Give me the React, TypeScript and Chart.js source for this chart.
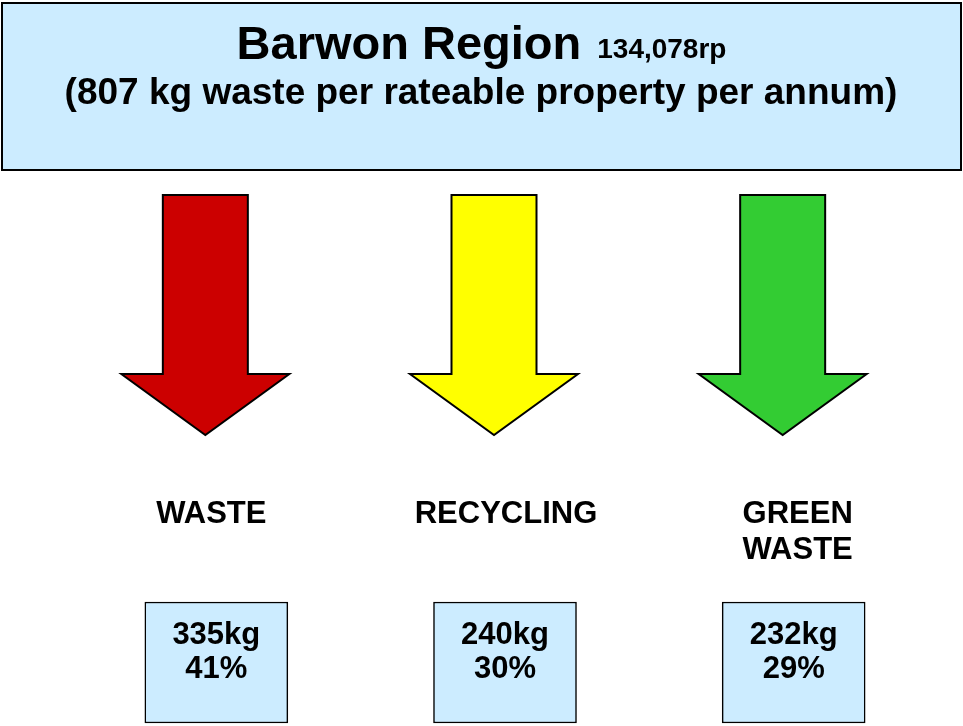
import React, { useEffect, useRef } from "react";
import { Chart, registerables } from "chart.js";

Chart.register(...registerables);

// ---- data ----
const CATEGORIES = ["WASTE", "RECYCLING", "GREEN WASTE"];
const LABEL_LINES = [["WASTE"], ["RECYCLING"], ["GREEN", "WASTE"]];
const KG = [335, 240, 232];
const PCT = [41, 30, 29];
const REGION = "Barwon Region";
const RATEABLE_PROPERTIES = "134,078rp";
const TOTAL_KG = 807;
const SUBTITLE = `(${TOTAL_KG} kg waste per rateable property per annum)`;

// ---- styles / layout ----
const ARROW_COLORS = ["#CC0000", "#FFFF00", "#33CC33"];
const BOX_FILL = "#CCECFF";
const FONT = '"Liberation Sans", Arial, Helvetica, sans-serif';
const W = 963;
const H = 726;
const BOX_TOP = 602;
const BOX_BOTTOM = 723;
const ARROW_SHIFT = -11;
const LABEL_NUDGE = [-5, 1, 4];

const drawPlugin = {
  id: "infographic",
  beforeDatasetsDraw(chart: any) {
    const ctx: CanvasRenderingContext2D = chart.ctx;
    const xs = chart.scales.x;
    const ys = chart.scales.y;
    const py = (v: number) => ys.getPixelForValue(v);
    ctx.save();

    // title box
    ctx.fillStyle = BOX_FILL;
    ctx.fillRect(2, py(3), 959, py(170) - py(3));
    ctx.strokeStyle = "#000";
    ctx.lineWidth = 2;
    ctx.strokeRect(2, py(3), 959, py(170) - py(3));

    // title text
    ctx.fillStyle = "#000";
    ctx.textBaseline = "alphabetic";
    ctx.textAlign = "left";
    ctx.font = `bold 47px ${FONT}`;
    const w1 = ctx.measureText(REGION).width;
    ctx.font = `bold 28px ${FONT}`;
    const w2 = ctx.measureText(RATEABLE_PROPERTIES).width;
    const gap = 16;
    const start = 481.5 - (w1 + gap + w2) / 2;
    ctx.font = `bold 47px ${FONT}`;
    ctx.fillText(REGION, start, py(59));
    ctx.font = `bold 28px ${FONT}`;
    ctx.fillText(RATEABLE_PROPERTIES, start + w1 + gap, py(58));
    ctx.textAlign = "center";
    ctx.font = `bold 37px ${FONT}`;
    ctx.fillText(SUBTITLE, 481, py(104));

    // arrows
    CATEGORIES.forEach((_, i) => {
      const cx = xs.getPixelForValue(i) + ARROW_SHIFT;
      ctx.beginPath();
      ctx.moveTo(cx - 42.5, py(195));
      ctx.lineTo(cx + 42.5, py(195));
      ctx.lineTo(cx + 42.5, py(374));
      ctx.lineTo(cx + 84, py(374));
      ctx.lineTo(cx, py(435));
      ctx.lineTo(cx - 84, py(374));
      ctx.lineTo(cx - 42.5, py(374));
      ctx.closePath();
      ctx.fillStyle = ARROW_COLORS[i];
      ctx.fill();
      ctx.lineWidth = 2;
      ctx.lineJoin = "miter";
      ctx.strokeStyle = "#000";
      ctx.stroke();
    });

    // category labels
    ctx.fillStyle = "#000";
    ctx.textAlign = "center";
    ctx.font = `bold 31px ${FONT}`;
    LABEL_LINES.forEach((lines, i) => {
      const cx = xs.getPixelForValue(i) + LABEL_NUDGE[i];
      lines.forEach((line, k) => {
        ctx.fillText(line, cx, py(523 + 36 * k));
      });
    });
    ctx.restore();
  },
  afterDatasetsDraw(chart: any) {
    const ctx: CanvasRenderingContext2D = chart.ctx;
    const ys = chart.scales.y;
    const meta = chart.getDatasetMeta(0);
    ctx.save();
    ctx.fillStyle = "#000";
    ctx.textAlign = "center";
    ctx.textBaseline = "alphabetic";
    ctx.font = `bold 31px ${FONT}`;
    meta.data.forEach((bar: any, i: number) => {
      ctx.fillText(`${KG[i]}kg`, bar.x, ys.getPixelForValue(644));
      ctx.fillText(`${PCT[i]}%`, bar.x, ys.getPixelForValue(678));
    });
    ctx.restore();
  },
};

export default function App() {
  const ref = useRef<HTMLCanvasElement | null>(null);
  useEffect(() => {
    if (!ref.current) return;
    const chart = new Chart(ref.current, {
      type: "bar",
      data: {
        labels: CATEGORIES,
        datasets: [
          {
            label: "kg per rateable property",
            data: CATEGORIES.map(() => [BOX_TOP, BOX_BOTTOM]) as any,
            backgroundColor: BOX_FILL,
            borderColor: "#000",
            borderWidth: 1.5,
            borderSkipped: false,
            barThickness: 143,
          },
        ],
      },
      options: {
        responsive: false,
        animation: false,
        events: [],
        layout: { padding: { left: 72, right: 25, top: 0, bottom: 0 } },
        plugins: {
          legend: { display: false },
          tooltip: { enabled: false },
          title: { display: false },
        },
        scales: {
          x: { type: "category", display: false, offset: true },
          y: { type: "linear", display: false, min: 0, max: H, reverse: true },
        },
      },
      plugins: [drawPlugin],
    });
    return () => chart.destroy();
  }, []);
  return (
    <div style={{ position: "fixed", left: 0, top: 0, width: W, height: H, background: "#fff" }}>
      <canvas ref={ref} width={W} height={H} style={{ display: "block" }} />
    </div>
  );
}
